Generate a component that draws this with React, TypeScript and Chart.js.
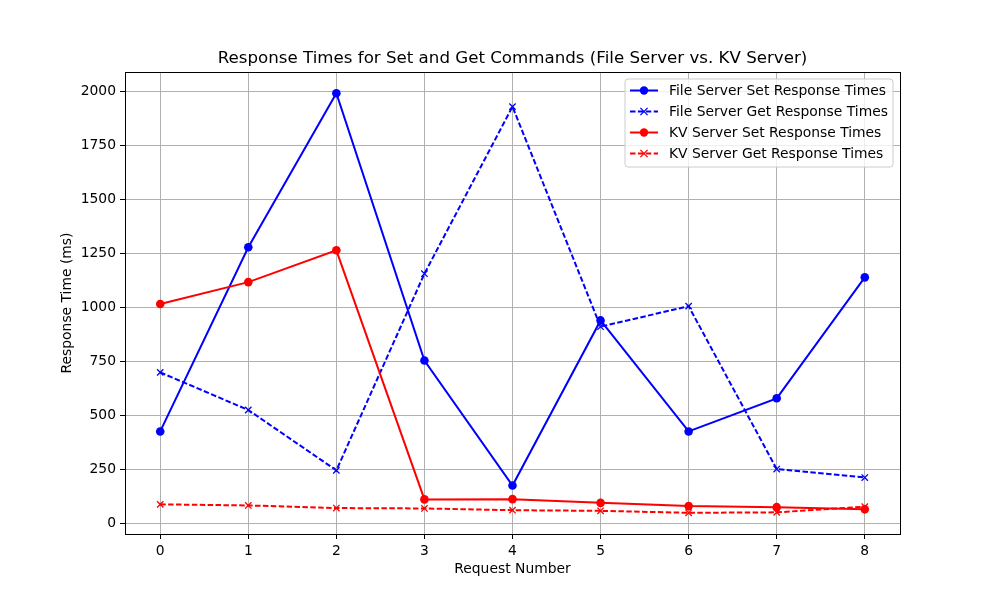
import React, { useEffect, useRef } from "react";
import { Chart, registerables } from "chart.js";

Chart.register(...registerables);

const requests = [0, 1, 2, 3, 4, 5, 6, 7, 8];
const yTickValues = [0, 250, 500, 750, 1000, 1250, 1500, 1750, 2000];
const fileServerSet = [427, 1278, 1990, 755, 177, 940, 427, 580, 1139];
const fileServerGet = [700, 526, 247, 1156, 1928, 911, 1006, 253, 214];
const kvServerSet = [1016, 1117, 1264, 113, 114, 97, 82, 77, 67];
const kvServerGet = [90, 85, 73, 71, 63, 60, 51, 53, 79];
const seriesLabels = [
  "File Server Set Response Times",
  "File Server Get Response Times",
  "KV Server Set Response Times",
  "KV Server Get Response Times",
];
const titleText = "Response Times for Set and Get Commands (File Server vs. KV Server)";
const xTitle = "Request Number";
const yTitle = "Response Time (ms)";

const FONT = "DejaVu Sans";
const DASH = [5.5, 2.4];
const FS = 13.89;

function pts(vals: number[]) {
  return requests.map((x, i) => ({ x, y: vals[i] }));
}

const styles = [
  { color: "#0000ff", dashed: false, marker: "circle" },
  { color: "#0000ff", dashed: true, marker: "crossRot" },
  { color: "#ff0000", dashed: false, marker: "circle" },
  { color: "#ff0000", dashed: true, marker: "crossRot" },
];

function drawMarker(ctx: CanvasRenderingContext2D, kind: string, x: number, y: number, color: string) {
  ctx.save();
  ctx.setLineDash([]);
  if (kind === "circle") {
    ctx.fillStyle = color;
    ctx.beginPath();
    ctx.arc(x, y, 4.2, 0, Math.PI * 2);
    ctx.fill();
  } else {
    ctx.strokeStyle = color;
    ctx.lineWidth = 1.3;
    const r = 3.6;
    ctx.beginPath();
    ctx.moveTo(x - r, y - r);
    ctx.lineTo(x + r, y + r);
    ctx.moveTo(x - r, y + r);
    ctx.lineTo(x + r, y - r);
    ctx.stroke();
  }
  ctx.restore();
}

const overlayPlugin = {
  id: "overlay",
  afterDraw(chart: any) {
    const ctx: CanvasRenderingContext2D = chart.ctx;
    const a = chart.chartArea;
    ctx.save();
    // frame
    ctx.strokeStyle = "#000";
    ctx.lineWidth = 1;
    ctx.setLineDash([]);
    ctx.strokeRect(Math.round(a.left) + 0.5, Math.round(a.top) + 0.5, Math.round(a.right - a.left), Math.round(a.bottom - a.top));
    // title
    ctx.fillStyle = "#000";
    ctx.font = `16.67px "${FONT}"`;
    ctx.textAlign = "center";
    ctx.textBaseline = "middle";
    ctx.fillText(titleText, (a.left + a.right) / 2, 58.5);
    // legend
    const bx = 625, by = 79, bw = 268, bh = 88, rr = 3;
    ctx.fillStyle = "rgba(255,255,255,0.8)";
    ctx.strokeStyle = "#cccccc";
    ctx.lineWidth = 1;
    ctx.beginPath();
    ctx.moveTo(bx + rr, by);
    ctx.lineTo(bx + bw - rr, by);
    ctx.arcTo(bx + bw, by, bx + bw, by + rr, rr);
    ctx.lineTo(bx + bw, by + bh - rr);
    ctx.arcTo(bx + bw, by + bh, bx + bw - rr, by + bh, rr);
    ctx.lineTo(bx + rr, by + bh);
    ctx.arcTo(bx, by + bh, bx, by + bh - rr, rr);
    ctx.lineTo(bx, by + rr);
    ctx.arcTo(bx, by, bx + rr, by, rr);
    ctx.closePath();
    ctx.fill();
    ctx.stroke();
    ctx.font = `${FS}px "${FONT}"`;
    ctx.textAlign = "left";
    ctx.textBaseline = "middle";
    seriesLabels.forEach((lab, i) => {
      const y = 90.5 + i * 21;
      const s = styles[i];
      ctx.strokeStyle = s.color;
      ctx.lineWidth = 2;
      ctx.setLineDash(s.dashed ? DASH : []);
      ctx.beginPath();
      ctx.moveTo(630, y);
      ctx.lineTo(658, y);
      ctx.stroke();
      drawMarker(ctx, s.marker, 644, y, s.color);
      ctx.fillStyle = "#000";
      ctx.fillText(lab, 669, y + 0.5);
    });
    ctx.restore();
  },
};

export default function App() {
  const ref = useRef<HTMLCanvasElement | null>(null);
  useEffect(() => {
    document.body.style.margin = "0";
    if (!ref.current) return;
    Chart.defaults.font.family = FONT;
    Chart.defaults.color = "#000";
    const series = [fileServerSet, fileServerGet, kvServerSet, kvServerGet];
    const chart = new Chart(ref.current, {
      type: "line",
      data: {
        datasets: series.map((vals, i) => ({
          label: seriesLabels[i],
          data: pts(vals),
          borderColor: styles[i].color,
          backgroundColor: styles[i].color,
          borderWidth: 2,
          borderDash: styles[i].dashed ? DASH : [],
          pointStyle: styles[i].marker as any,
          pointRadius: styles[i].marker === "circle" ? 4.3 : 4.5,
          pointBorderWidth: styles[i].marker === "circle" ? 0 : 1.3,
          pointBorderColor: styles[i].color,
          pointBackgroundColor: styles[i].color,
          tension: 0,
          fill: false,
          order: 3 - i,
        })),
      },
      options: {
        responsive: false,
        animation: false,
        layout: { padding: { left: 0, right: 100, top: 72, bottom: 0 } },
        plugins: {
          legend: { display: false },
          title: { display: false },
          tooltip: { enabled: false },
        },
        scales: {
          x: {
            type: "linear",
            min: -0.4,
            max: 8.4,
            ticks: { padding: 4, font: { size: FS }, color: "#000", callback: (v: any) => String(v) },
            afterBuildTicks: (s: any) => {
              s.ticks = requests.map((v) => ({ value: v }));
            },
            afterFit: (s: any) => {
              s.height = 66;
            },
            grid: { color: "#b0b0b0", lineWidth: 1, tickColor: "#000", tickLength: 5 },
            border: { display: false },
            title: { display: true, text: xTitle, font: { size: FS }, color: "#000", padding: { top: 0, bottom: 22 } },
          },
          y: {
            type: "linear",
            min: -47,
            max: 2088,
            ticks: { padding: 4, font: { size: FS }, color: "#000", callback: (v: any) => String(v) },
            afterBuildTicks: (s: any) => {
              s.ticks = yTickValues.map((v) => ({ value: v }));
            },
            afterFit: (s: any) => {
              s.width = 125;
            },
            grid: { color: "#b0b0b0", lineWidth: 1, tickColor: "#000", tickLength: 5 },
            border: { display: false },
            title: { display: true, text: yTitle, font: { size: FS }, color: "#000", padding: { top: 59, bottom: 0 } },
          },
        },
      },
      plugins: [overlayPlugin],
    } as any);
    return () => chart.destroy();
  }, []);
  return (
    <div style={{ position: "absolute", left: 0, top: 0, width: 1000, height: 600, background: "#fff" }}>
      <canvas ref={ref} width={1000} height={600} />
    </div>
  );
}
